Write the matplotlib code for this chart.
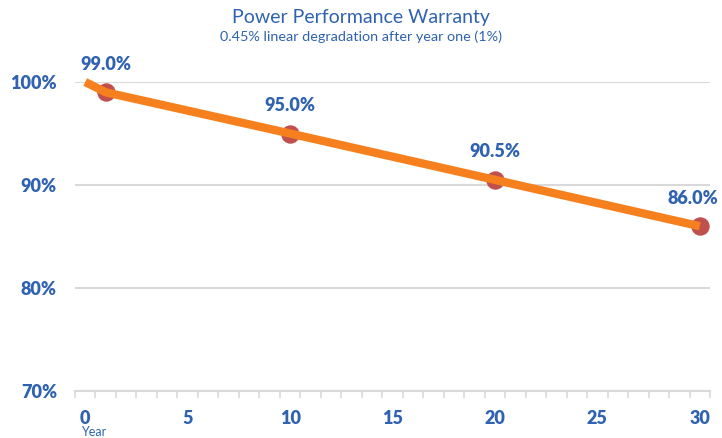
import numpy as np
import matplotlib.pyplot as plt
from matplotlib.ticker import FixedLocator

# data
years = [0, 1, 10, 20, 30]
power = [100.0, 99.0, 95.0, 90.5, 86.0]
marked_years = [1, 10, 20, 30]
marked_power = [99.0, 95.0, 90.5, 86.0]
x_ticks = [0, 5, 10, 15, 20, 25, 30]
y_ticks = [70, 80, 90, 100]

blue = "#2F62B0"
orange = "#F7801E"
red = "#C0504D"
grid = "#D9D9D9"

plt.rcParams['font.family'] = ['Lato', 'DejaVu Sans']

fig = plt.figure(figsize=(7.22, 4.38), dpi=100)
ax = fig.add_axes([75 / 722, 1 - 391 / 438, 635 / 722, 309 / 438])

# markers sit under the orange line, as in the reference
ax.scatter(marked_years, marked_power, s=150, color=red, zorder=3, clip_on=False)
ax.plot(years, power, color=orange, lw=6, zorder=4, clip_on=False,
        solid_capstyle='butt')

for x, y in zip(marked_years, marked_power):
    dx = -5 if x == 30 else 0
    ax.annotate(f"{y:.1f}%", (x, y), xytext=(dx, 14), textcoords='offset points',
                ha='center', va='bottom', color=blue, fontsize=13,
                fontweight='heavy', annotation_clip=False)

ax.set_xlim(-0.5, 30.5)
ax.set_ylim(70, 100)

ax.set_yticks(y_ticks)
ax.set_yticklabels([f"{v}%" for v in y_ticks])
ax.set_xticks(x_ticks)
ax.set_xticklabels([str(v) for v in x_ticks])
ax.xaxis.set_minor_locator(FixedLocator(np.arange(-0.5, 31, 1)))

ax.tick_params(axis='y', length=0, pad=13, labelcolor=blue, labelsize=13)
ax.tick_params(axis='x', which='major', length=0, pad=14, labelcolor=blue, labelsize=13)
ax.tick_params(axis='x', which='minor', length=5, width=1.2, color=grid)
for lab in ax.get_xticklabels() + ax.get_yticklabels():
    lab.set_fontweight('heavy')

ax.grid(axis='y', color=grid, lw=1.5)
ax.set_axisbelow(True)
for s in ['top', 'right', 'left']:
    ax.spines[s].set_visible(False)
ax.spines['bottom'].set_color(grid)
ax.spines['bottom'].set_linewidth(1.5)

fig.text(0.5, 1 - 17 / 438, "Power Performance Warranty", ha='center', va='center',
         color=blue, fontsize=14)
fig.text(0.5, 1 - 37 / 438, "0.45% linear degradation after year one (1%)",
         ha='center', va='center', color=blue, fontsize=10.4)
fig.text(81 / 722, 1 - 432 / 438, "Year", ha='left', va='center', color=blue, fontsize=9)

fig.savefig("out.png", dpi=100)
